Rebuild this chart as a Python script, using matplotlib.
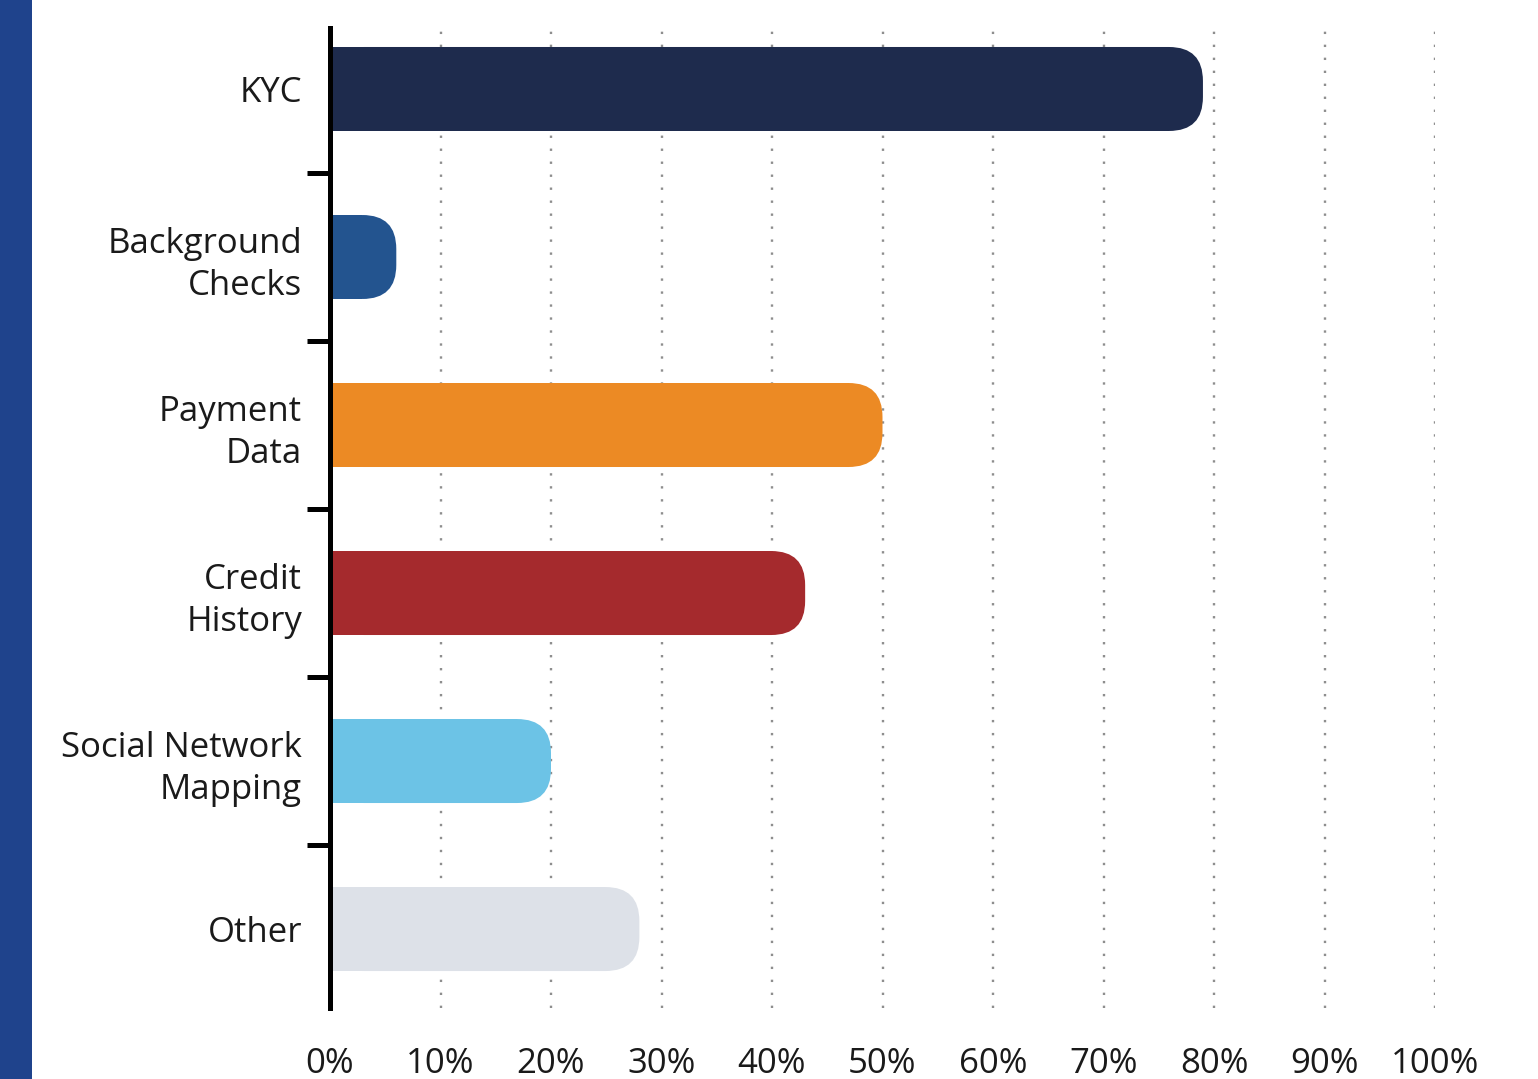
import numpy as np
import matplotlib.pyplot as plt
from matplotlib.patches import FancyBboxPatch, Rectangle

# ============================================================
#   DATA
# ============================================================
categories = ["KYC", "Background\nChecks", "Payment\nData", "Credit\nHistory",
              "Social Network\nMapping", "Other"]
shares = [79, 6, 50, 43, 20, 28]
bar_colors = ["#1e2b4d", "#23548f", "#ec8a24", "#a52a2d", "#6cc3e6", "#dde1e8"]
x_ticks = list(range(0, 101, 10))
x_labels = [f"{t}%" for t in x_ticks]

plt.rcParams["font.family"] = ["Open Sans", "DejaVu Sans"]

W, H = 1538, 1079
fig = plt.figure(figsize=(W / 100, H / 100), dpi=100)

# blue strip down the left edge
fig.patches.append(Rectangle((0, 0), 32 / W, 1, transform=fig.transFigure,
                             facecolor="#1f438c", edgecolor="none", zorder=0))

ax = fig.add_axes([330 / W, 1 - 1008 / H, (1435 - 330) / W, (1008 - 28) / H])
ax.set_xlim(0, 100)
ax.set_ylim(5.47, -0.363)

# ============================================================
#   ROUNDED BARS (square on the left, rounded on the right)
# ============================================================
bar_h = 0.5
px_x = (1435 - 330) / 100.0           # pixels per x unit
px_y = 168.0                          # pixels per category
r_px = 34.0
rx = r_px / px_x
ry = r_px / px_y

ypos = np.arange(len(categories))
ax.barh(ypos, [max(v - rx, 0) for v in shares], height=bar_h,
        color=bar_colors, edgecolor="none", zorder=3)
for y, v, c in zip(ypos, shares, bar_colors):
    patch = FancyBboxPatch((0, y - bar_h / 2), v, bar_h,
                           boxstyle=f"round,pad=0,rounding_size={rx}",
                           mutation_aspect=ry / rx,
                           facecolor=c, edgecolor="none", zorder=3)
    ax.add_patch(patch)

# ============================================================
#   AXES STYLING
# ============================================================
for xv in x_ticks[1:]:
    ax.axvline(xv, color="#8e8e8e", lw=1.7, linestyle=(0, (1, 4.5)), zorder=1)

for s in ["top", "right", "bottom"]:
    ax.spines[s].set_visible(False)
ax.spines["left"].set_linewidth(3.6)
ax.spines["left"].set_color("black")
ax.spines["left"].set_zorder(4)

ax.set_yticks(ypos)
ax.set_yticklabels(categories, fontsize=25, color="#1a1a1a", linespacing=1.3,
                   ha="right")
ax.tick_params(axis="y", which="major", length=0, pad=20)
ax.set_yticks(ypos[:-1] + 0.5, minor=True)
ax.tick_params(axis="y", which="minor", length=16.5, width=3.6, color="black")

ax.set_xticks(x_ticks)
ax.set_xticklabels(x_labels, fontsize=25, color="#1a1a1a")
ax.tick_params(axis="x", length=0, pad=28)

fig.savefig("out.png", dpi=100)
plt.close(fig)
